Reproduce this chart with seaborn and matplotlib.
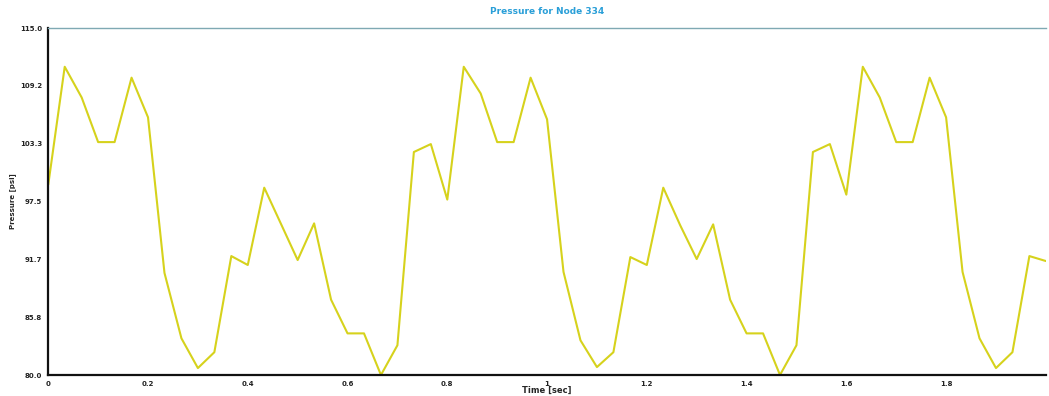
import numpy as np
import pandas as pd
import matplotlib
matplotlib.use("Agg")
import matplotlib.pyplot as plt
import seaborn as sns

# ── Data ──────────────────────────────────────
time_sec = [
    0.000, 0.033, 0.067, 0.100, 0.133, 0.167, 0.200, 0.233, 0.267, 0.300,
    0.333, 0.367, 0.400, 0.433, 0.467, 0.500, 0.533, 0.567, 0.600, 0.633,
    0.667, 0.700, 0.733, 0.767, 0.800, 0.833, 0.867, 0.900, 0.933, 0.967,
    1.000, 1.033, 1.067, 1.100, 1.133, 1.167, 1.200, 1.233, 1.267, 1.300,
    1.333, 1.367, 1.400, 1.433, 1.467, 1.500, 1.533, 1.567, 1.600, 1.633,
    1.667, 1.700, 1.733, 1.767, 1.800, 1.833, 1.867, 1.900, 1.933, 1.967,
    2.000,
]
pressure_psi = [
    99.2, 111.1, 108.0, 103.5, 103.5, 110.0, 106.0, 90.3, 83.7, 80.7,
    82.3, 92.0, 91.1, 98.9, 95.2, 91.6, 95.3, 87.6, 84.2, 84.2,
    80.0, 83.0, 102.5, 103.3, 97.7, 111.1, 108.4, 103.5, 103.5, 110.0,
    105.8, 90.4, 83.5, 80.8, 82.3, 91.9, 91.1, 98.9, 95.1, 91.7,
    95.2, 87.6, 84.2, 84.2, 80.0, 83.0, 102.5, 103.3, 98.2, 111.1,
    108.0, 103.5, 103.5, 110.0, 106.0, 90.4, 83.7, 80.7, 82.3, 92.0,
    91.5,
]

y_ticks = [80.0, 85.83, 91.67, 97.5, 103.33, 109.17, 115.0]
y_tick_labels = ["80.0", "85.8", "91.7", "97.5", "103.3", "109.2", "115.0"]
x_ticks = [0, 0.2, 0.4, 0.6, 0.8, 1.0, 1.2, 1.4, 1.6, 1.8]
x_tick_labels = ["0", "0.2", "0.4", "0.6", "0.8", "1", "1.2", "1.4", "1.6", "1.8"]

df = pd.DataFrame({"Time [sec]": time_sec, "Pressure [psi]": pressure_psi})

# ── Styling ─────────────────────────────────
sns.set_theme(style="white")
plt.rcParams["font.family"] = ["DejaVu Sans"]

fig = plt.figure(figsize=(10.49, 3.96), dpi=100)
ax = fig.add_axes([0.046, 0.053, 0.951, 0.876])

sns.lineplot(data=df, x="Time [sec]", y="Pressure [psi]", ax=ax,
             color="#d6d21c", linewidth=1.5)

ax.set_xlim(0, 2.0)
ax.set_ylim(80, 115)
ax.set_xticks(x_ticks)
ax.set_xticklabels(x_tick_labels, fontsize=5, fontweight="bold")
ax.set_yticks(y_ticks)
ax.set_yticklabels(y_tick_labels, fontsize=5, fontweight="bold")
ax.tick_params(axis="both", length=3, width=0.8, pad=1.5, colors="#222222")

ax.set_xlabel("Time [sec]", fontsize=6, fontweight="bold", labelpad=-1)
ax.set_ylabel("Pressure [psi]", fontsize=5, fontweight="bold", labelpad=3)
ax.set_title("Pressure for Node 334", fontsize=6.5, fontweight="bold",
             color="#2a9fd8", pad=10)

for side in ["left", "bottom"]:
    ax.spines[side].set_color("#111111")
    ax.spines[side].set_linewidth(1.6)
ax.spines["top"].set_color("#7fa9b3")
ax.spines["top"].set_linewidth(1.0)
ax.spines["right"].set_visible(False)

fig.savefig("out.png", dpi=100)
